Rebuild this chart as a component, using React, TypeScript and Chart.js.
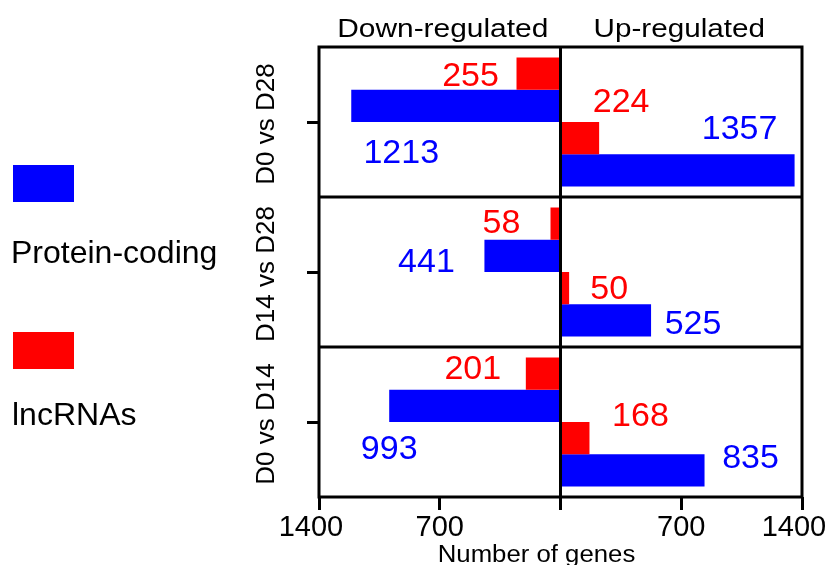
import React, { useEffect, useRef } from 'react';
import { Chart, registerables } from 'chart.js';

Chart.register(...registerables);

// ---- data ----
const categories = ['D0 vs D28', 'D14 vs D28', 'D0 vs D14'];
const downProteinCoding = [1213, 441, 993];
const downLncRNAs = [255, 58, 201];
const upProteinCoding = [1357, 525, 835];
const upLncRNAs = [224, 50, 168];
const xTickValues = [-1400, -700, 0, 700, 1400];
const seriesNames = ['Protein-coding', 'lncRNAs'];
const panelTitles = ['Down-regulated', 'Up-regulated'];
const xAxisTitle = 'Number of genes';

// ---- style / layout ----
const BLUE = '#0000FF';
const RED = '#FF0000';
const INK = '#000000';
const FONT = '"Liberation Sans", Arial, Helvetica, sans-serif';

// value-label offsets (px) from bar end (dx) and bar centre (dy),
// per dataset [down lnc, down protein, up lnc, up protein], per category
const labelOffsets = [
  [[-46, 0], [-49, -3], [-53, -7]],
  [[50, 45], [-58, 4], [0, 41]],
  [[22, -38], [40, -1], [51, -24]],
  [[-55, -43], [42, 2], [46, -14]],
];

const decorPlugin = {
  id: 'decor',
  afterDraw(chart: any) {
    const { ctx, chartArea: a, scales } = chart;
    const xs = scales.x;
    const ys = scales.y;
    ctx.save();
    ctx.strokeStyle = '#000';
    ctx.lineWidth = 3;
    const line = (x1: number, y1: number, x2: number, y2: number) => {
      ctx.beginPath();
      ctx.moveTo(x1, y1);
      ctx.lineTo(x2, y2);
      ctx.stroke();
    };
    // panel separators
    for (let i = 0; i < categories.length - 1; i++) {
      const yy = (ys.getPixelForValue(i) + ys.getPixelForValue(i + 1)) / 2;
      line(a.left, yy, a.right, yy);
    }
    // frame
    ctx.strokeRect(a.left, a.top, a.right - a.left, a.bottom - a.top);
    // centre line
    const x0 = xs.getPixelForValue(0);
    line(x0, a.top, x0, a.bottom);

    // value labels
    ctx.font = `34px ${FONT}`;
    ctx.textAlign = 'center';
    ctx.textBaseline = 'alphabetic';
    const dsColors = [RED, BLUE, RED, BLUE];
    for (let d = 0; d < 4; d++) {
      const meta = chart.getDatasetMeta(d);
      const vals = chart.data.datasets[d].data as number[];
      meta.data.forEach((el: any, i: number) => {
        const [dx, dy] = labelOffsets[d][i];
        ctx.fillStyle = dsColors[d];
        ctx.fillText(String(Math.abs(vals[i])), el.x + dx, el.y + dy + 12);
      });
    }

    // horizontally widened text helper
    const wideText = (t: string, cx: number, by: number, sx: number) => {
      ctx.save();
      ctx.translate(cx, by);
      ctx.scale(sx, 1);
      ctx.textAlign = 'center';
      ctx.fillText(t, 0, 0);
      ctx.restore();
    };

    // panel titles
    ctx.fillStyle = INK;
    ctx.font = `26px ${FONT}`;
    wideText(panelTitles[0], (a.left + x0) / 2 + 3, a.top - 10, 1.15);
    wideText(panelTitles[1], (x0 + a.right) / 2 - 2, a.top - 10, 1.14);

    // x-axis title
    ctx.font = `23px ${FONT}`;
    wideText(xAxisTitle, (a.left + a.right) / 2 - 24, a.bottom + 65, 1.12);

    // category labels (rotated)
    ctx.font = `26px ${FONT}`;
    categories.forEach((c, i) => {
      const cy = ys.getPixelForValue(i) + 2;
      ctx.save();
      ctx.translate(a.left - 45, cy);
      ctx.rotate(-Math.PI / 2);
      ctx.textAlign = 'center';
      ctx.fillText(c, 0, 0);
      ctx.restore();
    });

    // legend
    ctx.textAlign = 'left';
    ctx.font = `32px ${FONT}`;
    ctx.fillStyle = BLUE;
    ctx.fillRect(13, 165, 61, 37);
    ctx.fillStyle = RED;
    ctx.fillRect(13, 332, 61, 37);
    ctx.fillStyle = INK;
    ctx.fillText(seriesNames[0], 11, 263);
    ctx.fillText(seriesNames[1], 12, 425);
    ctx.restore();
  },
};

export default function App() {
  const ref = useRef<HTMLCanvasElement | null>(null);
  useEffect(() => {
    if (!ref.current) return;
    Chart.defaults.font.family = FONT;
    const chart = new Chart(ref.current, {
      type: 'bar',
      data: {
        labels: categories,
        datasets: [
          { label: seriesNames[1] + ' down', data: downLncRNAs.map((v) => -v), backgroundColor: RED },
          { label: seriesNames[0] + ' down', data: downProteinCoding.map((v) => -v), backgroundColor: BLUE },
          { label: seriesNames[1] + ' up', data: upLncRNAs, backgroundColor: RED },
          { label: seriesNames[0] + ' up', data: upProteinCoding, backgroundColor: BLUE },
        ],
      },
      options: {
        indexAxis: 'y',
        responsive: false,
        animation: false,
        events: [],
        categoryPercentage: 0.86,
        barPercentage: 1,
        layout: { padding: { top: 47, right: 31, left: 0, bottom: 0 } },
        plugins: { legend: { display: false }, tooltip: { enabled: false }, title: { display: false } },
        scales: {
          x: {
            type: 'linear',
            min: -1400,
            max: 1400,
            afterBuildTicks: (s: any) => {
              s.ticks = xTickValues.map((v) => ({ value: v }));
            },
            afterFit: (s: any) => {
              s.height = 68;
              s.paddingLeft = 0;
              s.paddingRight = 0;
            },
            border: { display: false },
            grid: {
              color: 'rgba(0,0,0,0)',
              tickColor: '#000',
              lineWidth: 3,
              tickWidth: 3,
              tickLength: 13,
            },
            ticks: {
              padding: 1,
              color: INK,
              font: { size: 29, family: FONT },
              maxRotation: 0,
              autoSkip: false,
              callback: (v: any) => {
                const n = Math.abs(Number(v));
                if (n === 0) return '';
                return n === 1400 ? `${n}  ` : String(n);
              },
            },
          },
          y: {
            type: 'category',
            afterFit: (s: any) => {
              s.width = 319;
            },
            border: { display: false },
            grid: {
              offset: false,
              color: 'rgba(0,0,0,0)',
              tickColor: '#000',
              lineWidth: 3,
              tickWidth: 3,
              tickLength: 12,
            },
            ticks: { display: false },
          },
        },
      } as any,
      plugins: [decorPlugin],
    });
    return () => chart.destroy();
  }, []);
  return (
    <div style={{ position: 'fixed', left: 0, top: 0, width: 833, height: 565, background: '#fff' }}>
      <canvas ref={ref} width={833} height={565} style={{ display: 'block' }} />
    </div>
  );
}
